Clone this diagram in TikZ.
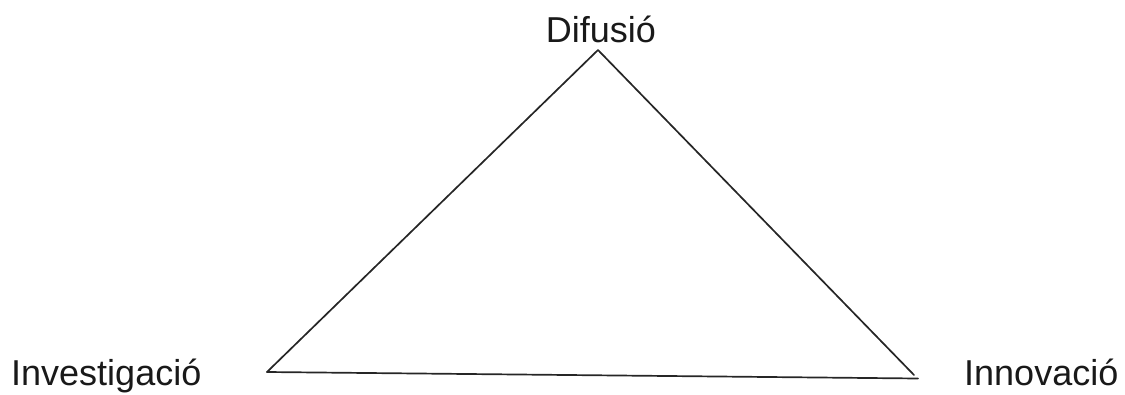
\documentclass[tikz,border=0pt]{standalone}
\usepackage{fontspec}
\setmainfont{Liberation Sans}
\begin{document}
\begin{tikzpicture}[x=1pt,y=-1pt,
  lbl/.style={inner sep=0pt,font=\fontsize{36}{40}\selectfont,text=black!90},
  edge/.style={draw=black!85,line width=1.7pt,line cap=round,line join=round}]
\useasboundingbox (0,0) rectangle (1125,394);
\coordinate (top) at (598,50);
\coordinate (bl) at (267,372);
\coordinate (br) at (914,375);
\coordinate (brb) at (918,378.5);
\node[lbl,anchor=base] (dif) at (601,42) {Difusió};
\node[lbl,anchor=base west] (inv) at (11,385) {Investigació};
\node[lbl,anchor=base west] (inn) at (964,385) {Innovació};
\draw[edge] (bl) -- (top) -- (br);
\draw[edge] (bl) -- (brb);
\end{tikzpicture}
\end{document}
